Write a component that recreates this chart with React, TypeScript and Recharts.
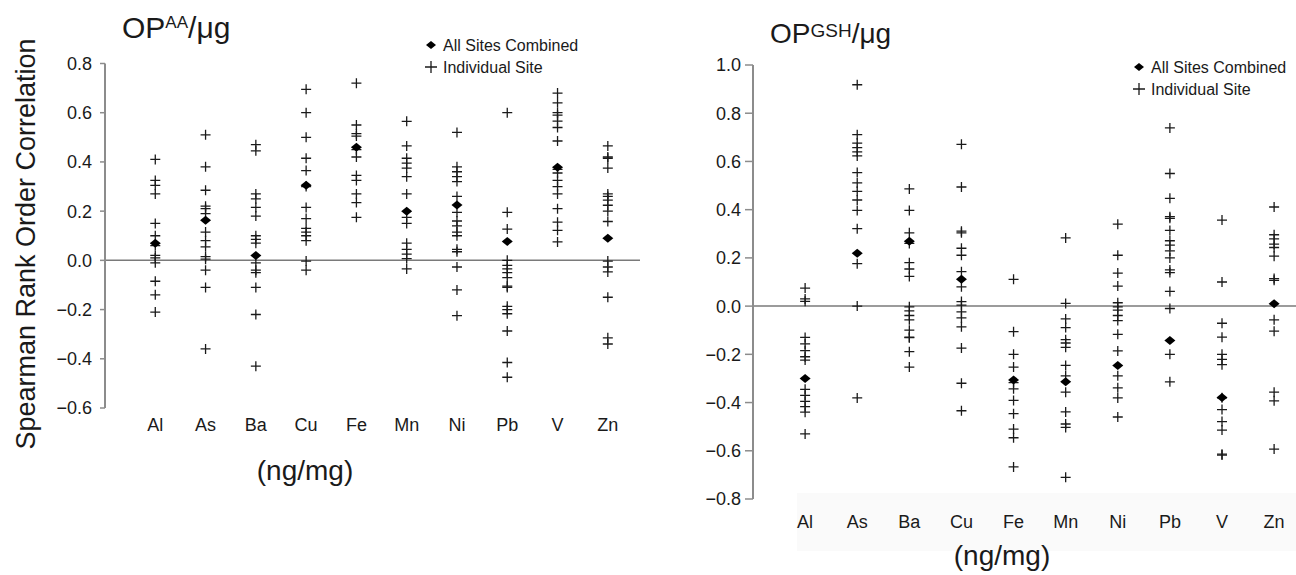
import React from 'react';
import { ScatterChart, Scatter, XAxis, YAxis, ReferenceLine } from 'recharts';

// Metals on the x axis (ng/mg)
const elements = ['Al', 'As', 'Ba', 'Cu', 'Fe', 'Mn', 'Ni', 'Pb', 'V', 'Zn'];
const elementTicks = [1, 2, 3, 4, 5, 6, 7, 8, 9, 10];

// OP^AA/μg — individual site correlations per metal
const aaAl = [0.41, 0.325, 0.305, 0.27, 0.15, 0.1, 0.06, 0.02, 0.01, -0.01, -0.085, -0.14, -0.21];
const aaAs = [0.51, 0.38, 0.285, 0.22, 0.21, 0.19, 0.115, 0.08, 0.055, 0.015, 0.005, -0.04, -0.11, -0.36];
const aaBa = [0.47, 0.445, 0.27, 0.25, 0.215, 0.18, 0.1, 0.085, 0.07, -0.01, -0.04, -0.05, -0.11, -0.22, -0.43];
const aaCu = [0.695, 0.6, 0.5, 0.415, 0.365, 0.3, 0.215, 0.17, 0.13, 0.115, 0.1, 0.08, -0.003, -0.04];
const aaFe = [0.72, 0.55, 0.515, 0.505, 0.45, 0.42, 0.345, 0.325, 0.27, 0.235, 0.175];
const aaMn = [0.565, 0.465, 0.415, 0.395, 0.375, 0.34, 0.27, 0.175, 0.15, 0.07, 0.045, 0.025, 0.007, -0.035];
const aaNi = [0.52, 0.38, 0.36, 0.34, 0.32, 0.26, 0.195, 0.16, 0.14, 0.115, 0.1, 0.045, 0.035, -0.027, -0.12, -0.225];
const aaPb = [0.6, 0.195, 0.127, 0.0, -0.02, -0.035, -0.05, -0.07, -0.105, -0.11, -0.187, -0.2, -0.217, -0.287, -0.415, -0.475];
const aaV = [0.68, 0.64, 0.6, 0.59, 0.566, 0.54, 0.485, 0.37, 0.355, 0.325, 0.3, 0.27, 0.21, 0.155, 0.122, 0.075];
const aaZn = [0.465, 0.42, 0.415, 0.375, 0.27, 0.26, 0.245, 0.224, 0.2, 0.158, -0.003, -0.027, -0.047, -0.15, -0.315, -0.34];
// OP^AA/μg — all sites combined
const aaCombined = [0.07, 0.163, 0.02, 0.305, 0.46, 0.2, 0.225, 0.077, 0.378, 0.09];

// OP^GSH/μg — individual site correlations per metal
const gshAl = [0.075, 0.03, 0.02, -0.13, -0.157, -0.185, -0.21, -0.224, -0.345, -0.37, -0.395, -0.417, -0.44, -0.53];
const gshAs = [0.918, 0.711, 0.676, 0.657, 0.64, 0.623, 0.554, 0.511, 0.476, 0.44, 0.397, 0.321, 0.176, 0.0, -0.381];
const gshBa = [0.486, 0.397, 0.304, 0.26, 0.18, 0.154, 0.123, -0.003, -0.02, -0.039, -0.057, -0.1, -0.129, -0.131, -0.189, -0.253];
const gshCu = [0.671, 0.494, 0.311, 0.304, 0.24, 0.211, 0.143, 0.08, 0.019, 0.004, -0.024, -0.049, -0.086, -0.174, -0.32, -0.434];
const gshFe = [0.111, -0.106, -0.2, -0.253, -0.317, -0.343, -0.391, -0.446, -0.51, -0.546, -0.667];
const gshMn = [0.283, 0.011, -0.053, -0.089, -0.139, -0.153, -0.171, -0.246, -0.289, -0.357, -0.439, -0.489, -0.503, -0.71];
const gshNi = [0.34, 0.211, 0.137, 0.083, 0.014, -0.003, -0.017, -0.039, -0.06, -0.117, -0.186, -0.289, -0.339, -0.381, -0.46];
const gshPb = [0.739, 0.55, 0.447, 0.371, 0.364, 0.314, 0.271, 0.253, 0.229, 0.2, 0.15, 0.139, 0.061, -0.01, -0.2, -0.314];
const gshV = [0.357, 0.1, -0.071, -0.129, -0.2, -0.221, -0.243, -0.38, -0.429, -0.479, -0.514, -0.614, -0.618];
const gshZn = [0.411, 0.296, 0.279, 0.257, 0.243, 0.207, 0.114, 0.107, -0.057, -0.104, -0.357, -0.393, -0.593];
// OP^GSH/μg — all sites combined
const gshCombined = [-0.3, 0.219, 0.269, 0.111, -0.306, -0.314, -0.246, -0.143, -0.379, 0.01];

// Y axis tick values
const aaTicks = [-0.6, -0.4, -0.2, 0, 0.2, 0.4, 0.6, 0.8];
const gshTicks = [-0.8, -0.6, -0.4, -0.2, 0, 0.2, 0.4, 0.6, 0.8, 1.0];

const FONT = '"Liberation Sans", Arial, Helvetica, sans-serif';
const INK = '#1a1a1a';
const AXIS = '#8c8c8c';

type Pt = { x: number; y: number };

const sitePoints = (groups: number[][]): Pt[] =>
  groups.flatMap((vals, i) => vals.map((v) => ({ x: i + 1, y: v })));
const combinedPoints = (vals: number[]): Pt[] => vals.map((v, i) => ({ x: i + 1, y: v }));

const aaSites = sitePoints([aaAl, aaAs, aaBa, aaCu, aaFe, aaMn, aaNi, aaPb, aaV, aaZn]);
const gshSites = sitePoints([gshAl, gshAs, gshBa, gshCu, gshFe, gshMn, gshNi, gshPb, gshV, gshZn]);

const fmt = (v: number) => (v < 0 ? '\u2212' + Math.abs(v).toFixed(1) : v.toFixed(1));

const PlusShape = (props: any) => {
  const { cx, cy } = props;
  if (cx == null || cy == null) return <g />;
  return (
    <path
      d={`M${cx - 5},${cy}H${cx + 5}M${cx},${cy - 5}V${cy + 5}`}
      stroke={INK}
      strokeWidth={1.3}
      fill="none"
    />
  );
};

const DiamondShape = (props: any) => {
  const { cx, cy } = props;
  if (cx == null || cy == null) return <g />;
  return (
    <polygon
      points={`${cx - 5.5},${cy} ${cx},${cy - 4.5} ${cx + 5.5},${cy} ${cx},${cy + 4.5}`}
      fill="#000"
    />
  );
};

type PanelProps = {
  left: number;
  width: number;
  margin: { top: number; right: number; bottom: number; left: number };
  yDomain: [number, number];
  yTicks: number[];
  xDomain: [number, number];
  sites: Pt[];
  combined: Pt[];
  yTickSize: number;
  yTickMargin: number;
  xTickMargin: number;
};

function Panel(p: PanelProps) {
  return (
    <div style={{ position: 'absolute', left: p.left, top: 0 }}>
      <ScatterChart width={p.width} height={575} margin={p.margin}>
        <XAxis
          type="number"
          dataKey="x"
          domain={p.xDomain}
          ticks={elementTicks}
          interval={0}
          allowDataOverflow
          tickFormatter={(v: number) => elements[v - 1] ?? ''}
          axisLine={false}
          tickLine={false}
          tickSize={6}
          tickMargin={p.xTickMargin}
          height={30}
          tick={{ fill: INK, fontSize: 18, fontFamily: FONT }}
        />
        <YAxis
          type="number"
          dataKey="y"
          domain={p.yDomain}
          ticks={p.yTicks}
          interval={0}
          allowDataOverflow
          width={60}
          tickFormatter={fmt}
          axisLine={{ stroke: AXIS, strokeWidth: 2 }}
          tickLine={{ stroke: AXIS, strokeWidth: 1.5 }}
          tickSize={p.yTickSize}
          tickMargin={p.yTickMargin}
          tick={{ fill: INK, fontSize: 18, fontFamily: FONT }}
        />
        <ReferenceLine y={0} stroke="#7a7a7a" strokeWidth={1.5} />
        <Scatter data={p.sites} shape={PlusShape} isAnimationActive={false} />
        <Scatter data={p.combined} shape={DiamondShape} isAnimationActive={false} />
      </ScatterChart>
    </div>
  );
}

function LegendBlock({ x, y }: { x: number; y: number }) {
  return (
    <g>
      <polygon points={`${x - 5},${y} ${x},${y - 4} ${x + 5},${y} ${x},${y + 4}`} fill="#000" />
      <text x={x + 12} y={y + 5.5} fontSize={16} fill={INK} fontFamily={FONT}>
        All Sites Combined
      </text>
      <path
        d={`M${x - 6},${y + 22}H${x + 6}M${x},${y + 16}V${y + 28}`}
        stroke={INK}
        strokeWidth={1.3}
      />
      <text x={x + 12} y={y + 27.5} fontSize={16} fill={INK} fontFamily={FONT}>
        Individual Site
      </text>
    </g>
  );
}

export default function App() {
  return (
    <div
      style={{
        position: 'fixed',
        left: 0,
        top: 0,
        width: 1296,
        height: 575,
        background: '#fff',
        fontFamily: FONT,
        overflow: 'hidden',
      }}
    >
      <svg width={1296} height={575} style={{ position: 'absolute', left: 0, top: 0 }}>
        <rect x={797} y={493} width={499} height={58} fill="#fafafa" />
      </svg>

      <Panel
        left={0}
        width={640}
        margin={{ top: 63.5, right: 0, bottom: 137, left: 45 }}
        yDomain={[-0.6, 0.8]}
        yTicks={aaTicks}
        xDomain={[0, 10.64]}
        sites={aaSites}
        combined={combinedPoints(aaCombined)}
        yTickSize={5}
        yTickMargin={8}
        xTickMargin={4}
      />
      <Panel
        left={640}
        width={656}
        margin={{ top: 65, right: 0, bottom: 46, left: 53 }}
        yDomain={[-0.8, 1.0]}
        yTicks={gshTicks}
        xDomain={[0, 10.42]}
        sites={gshSites}
        combined={combinedPoints(gshCombined)}
        yTickSize={8}
        yTickMargin={4}
        xTickMargin={10}
      />

      <svg
        width={1296}
        height={575}
        style={{ position: 'absolute', left: 0, top: 0, pointerEvents: 'none' }}
      >
        {/* panel titles */}
        <text x={122} y={38} fontSize={30} fill={INK} fontFamily={FONT}>
          OP
          <tspan fontSize={17} dy={-10}>AA</tspan>
          <tspan fontSize={30} dy={10}>/μg</tspan>
        </text>
        <text x={770} y={43} fontSize={28} fill={INK} fontFamily={FONT}>
          OP
          <tspan fontSize={19} dy={-6}>GSH</tspan>
          <tspan fontSize={28} dy={6}>/μg</tspan>
        </text>

        {/* y axis title */}
        <text
          x={35}
          y={244}
          fontSize={27}
          fill={INK}
          fontFamily={FONT}
          textAnchor="middle"
          transform="rotate(-90, 35, 244)"
        >
          Spearman Rank Order Correlation
        </text>

        {/* x axis titles */}
        <text x={305} y={480} fontSize={28} fill={INK} fontFamily={FONT} textAnchor="middle">
          (ng/mg)
        </text>
        <text x={1002} y={565} fontSize={28} fill={INK} fontFamily={FONT} textAnchor="middle">
          (ng/mg)
        </text>

        {/* legends */}
        <LegendBlock x={431} y={45} />
        <LegendBlock x={1139} y={67} />
      </svg>
    </div>
  );
}
